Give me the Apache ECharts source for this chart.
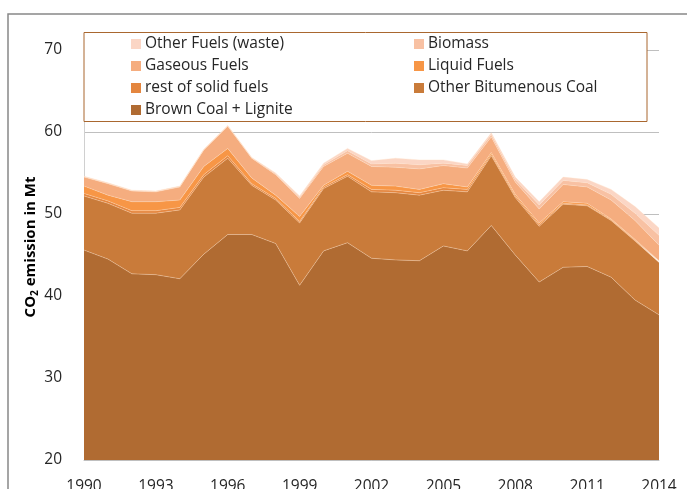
<!DOCTYPE html>
<html>
<head>
<meta charset="utf-8">
<script src="https://cdn.jsdelivr.net/npm/echarts@6/dist/echarts.min.js"></script>
<style>
  html, body { margin: 0; padding: 0; background: #fff; }
  #chart { width: 687px; height: 489px; }
</style>
</head>
<body>
<div id="chart"></div>
<script>
var years = ['1990','1991','1992','1993','1994','1995','1996','1997','1998','1999','2000','2001','2002',
             '2003','2004','2005','2006','2007','2008','2009','2010','2011','2012','2013','2014']

// Mt CO2 per fuel (stacked bottom -> top)
var brownCoal = [45.6, 44.5, 42.7, 42.6, 42.1, 45.1, 47.5, 47.5, 46.4, 41.3, 45.5, 46.5, 44.6, 44.4, 44.3, 46.1, 45.5, 48.6, 45.0, 41.7, 43.5, 43.6, 42.3, 39.5, 37.7]
var otherBitCoal = [6.6, 6.8, 7.4, 7.5, 8.4, 9.4, 9.3, 6.0, 5.3, 7.6, 7.6, 8.1, 8.1, 8.2, 8.0, 6.8, 7.2, 8.5, 7.0, 6.8, 7.7, 7.4, 6.9, 7.2, 6.4]
var restSolid = [0.3, 0.3, 0.3, 0.3, 0.3, 0.3, 0.3, 0.2, 0.2, 0.2, 0.2, 0.2, 0.3, 0.3, 0.3, 0.3, 0.3, 0.2, 0.2, 0.2, 0.1, 0.1, 0.1, 0.1, 0.1]
var liquidFuels = [0.9, 0.7, 1.1, 1.1, 0.9, 1.0, 0.9, 0.7, 0.4, 0.6, 0.2, 0.4, 0.5, 0.5, 0.4, 0.5, 0.3, 0.2, 0.2, 0.2, 0.2, 0.2, 0.1, 0.1, 0.1]
var gaseousFuels = [1.1, 1.4, 1.3, 1.2, 1.6, 2.0, 2.7, 2.4, 2.5, 2.2, 2.3, 2.2, 2.3, 2.3, 2.5, 2.2, 2.3, 1.9, 1.5, 1.7, 2.1, 2.0, 2.3, 2.3, 1.9]
var biomass = [0.05, 0.05, 0.05, 0.05, 0.05, 0.05, 0.05, 0.05, 0.1, 0.15, 0.2, 0.3, 0.3, 0.5, 0.5, 0.3, 0.3, 0.3, 0.3, 0.5, 0.5, 0.5, 0.7, 0.9, 1.2]
var otherWaste = [0.05, 0.05, 0.05, 0.05, 0.05, 0.05, 0.05, 0.05, 0.1, 0.15, 0.2, 0.3, 0.4, 0.6, 0.6, 0.4, 0.2, 0.2, 0.3, 0.4, 0.4, 0.4, 0.6, 0.8, 0.9]

var yTicks = [20, 30, 40, 50, 60, 70]

var layers = [
  { name: 'Brown Coal + Lignite', data: brownCoal, color: '#b06b32' },
  { name: 'Other Bitumenous Coal', data: otherBitCoal, color: '#c97b3a' },
  { name: 'rest of solid fuels', data: restSolid, color: '#e4863f' },
  { name: 'Liquid Fuels', data: liquidFuels, color: '#f79646' },
  { name: 'Gaseous Fuels', data: gaseousFuels, color: '#f5ad7f' },
  { name: 'Biomass', data: biomass, color: '#f8c1a3' },
  { name: 'Other Fuels (waste)', data: otherWaste, color: '#fbd6c5' }
]
// legend columns, as in the original (row by row, left then right)
var legendLeftCol = ['Other Fuels (waste)', 'Gaseous Fuels', 'rest of solid fuels', 'Brown Coal + Lignite']
var legendRightCol = ['Biomass', 'Liquid Fuels', 'Other Bitumenous Coal']

var font = "'Open Sans', 'Liberation Sans', sans-serif"

var chart = echarts.init(document.getElementById('chart'))

var seriesData = layers.map(function (l) {
  return {
    name: l.name,
    type: 'line',
    stack: 'total',
    symbol: 'none',
    data: l.data,
    itemStyle: { color: l.color },
    lineStyle: { width: 1, color: 'rgba(255,225,200,0.35)' },
    areaStyle: { color: l.color, opacity: 1 }
  }
})

function makeLegend(names, left) {
  return {
    data: names,
    orient: 'vertical',
    left: left,
    top: 28,
    itemWidth: 10,
    itemHeight: 10,
    itemGap: 0,
    icon: 'rect',
    selectedMode: false,
    z: 5,
    textStyle: { fontFamily: font, fontSize: 15.5, color: '#262626', lineHeight: 22, padding: [0, 0, 0, -1] }
  }
}

var option = {
  animation: false,
  textStyle: { fontFamily: font },
  grid: { left: 84, right: 28, top: 50, bottom: 29, outerBoundsMode: 'none' },
  legend: [makeLegend(legendLeftCol, 126), makeLegend(legendRightCol, 409)],
  graphic: [
    {
      type: 'rect', z: 0, silent: true,
      shape: { x: 8, y: 14, width: 700, height: 500 },
      style: { fill: 'none', stroke: '#888', lineWidth: 1.5 }
    },
    {
      type: 'rect', z: 3, silent: true,
      shape: { x: 84, y: 32.5, width: 563, height: 89 },
      style: { fill: '#fff', stroke: '#a9672f', lineWidth: 1 }
    }
  ],
  xAxis: {
    type: 'category',
    boundaryGap: false,
    data: years,
    axisTick: { show: false },
    axisLine: { lineStyle: { color: '#bfbfbf' } },
    axisLabel: { interval: 2, fontSize: 15.5, color: '#262626', margin: 19, fontFamily: font }
  },
  yAxis: {
    type: 'value',
    min: yTicks[0],
    max: yTicks[yTicks.length - 1],
    interval: 10,
    name: '{a|CO}{s|2}{a| emission in Mt}',
    nameLocation: 'middle',
    nameRotate: 90,
    nameGap: 44,
    nameMoveOverlap: false,
    nameTextStyle: {
      padding: [0, 0, 0, 16],
      rich: {
        a: { fontFamily: font, fontSize: 15, fontWeight: 'bold', color: '#000' },
        s: { fontFamily: font, fontSize: 10, fontWeight: 'bold', color: '#000', padding: [8, 0, 0, 0] }
      }
    },
    axisTick: { show: false },
    axisLine: { show: true, lineStyle: { color: '#d0d0d0' } },
    splitLine: { lineStyle: { color: '#bfbfbf', width: 1 } },
    axisLabel: { fontSize: 15.5, color: '#262626', margin: 22, fontFamily: font }
  },
  series: seriesData
}

chart.setOption(option, true)
</script>
</body>
</html>
